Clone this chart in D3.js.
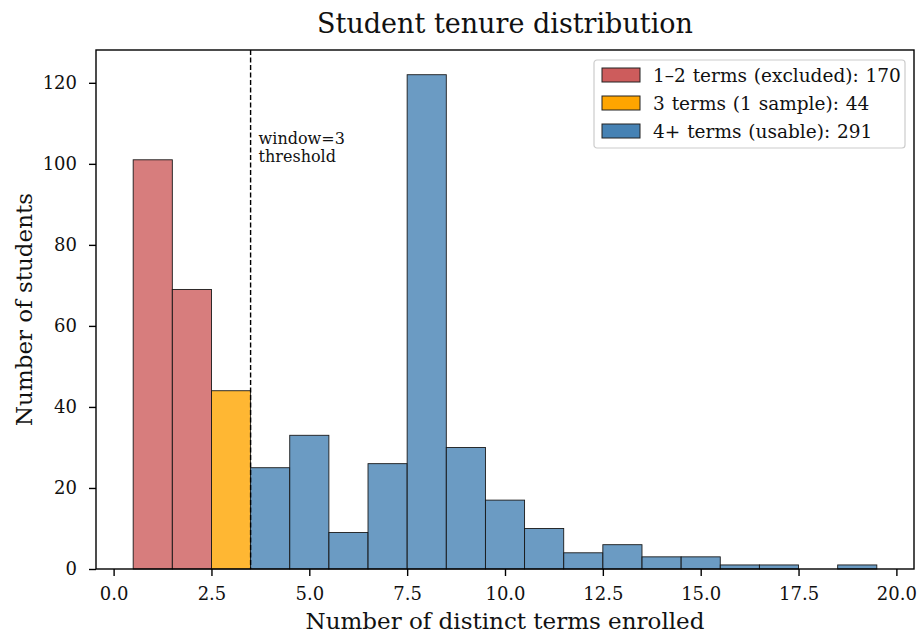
<!DOCTYPE html>
<html>
<head>
<meta charset="utf-8">
<script src="https://cdn.jsdelivr.net/npm/d3@7/dist/d3.min.js"></script>
<style>
  html, body { margin: 0; padding: 0; background: #fff; }
  svg text { font-family: "DejaVu Serif", "Liberation Serif", serif; fill: #111; }
</style>
</head>
<body>
<svg id="chart" width="920" height="644"></svg>
<script>
// Number of distinct terms enrolled (bin centres) and student counts
const terms = [1, 2, 3, 4, 5, 6, 7, 8, 9, 10, 11, 12, 13, 14, 15, 16, 17, 18, 19];
const counts = [101, 69, 44, 25, 33, 9, 26, 122, 30, 17, 10, 4, 6, 3, 3, 1, 1, 0, 1];
const xTicks = [0, 2.5, 5, 7.5, 10, 12.5, 15, 17.5, 20];
const yTicks = [0, 20, 40, 60, 80, 100, 120];
const groups = [
  { name: "1\u20132 terms (excluded)", total: 170, fill: "#cd5c5c" },
  { name: "3 terms (1 sample)", total: 44, fill: "#ffa500" },
  { name: "4+ terms (usable)", total: 291, fill: "#4682b4" }
];
const threshold = 3.5;

const groupOf = t => t <= 2 ? 0 : (t === 3 ? 1 : 2);

const svg = d3.select("#chart");
const m = { left: 96, right: 6, top: 50, bottom: 75 };
const W = 920, H = 644;
const x0 = m.left, x1 = W - m.right, y0 = H - m.bottom, y1 = m.top;

const x = d3.scaleLinear().domain([-0.45, 20.45]).range([x0, x1]);
const y = d3.scaleLinear().domain([0, 122 * 1.05]).range([y0, y1]);

// bars
svg.append("g").selectAll("rect")
  .data(terms.map((t, i) => ({ t, c: counts[i] })).filter(d => d.c > 0))
  .join("rect")
  .attr("x", d => x(d.t - 0.5))
  .attr("width", d => x(d.t + 0.5) - x(d.t - 0.5))
  .attr("y", d => y(d.c))
  .attr("height", d => y(0) - y(d.c))
  .attr("fill", d => groups[groupOf(d.t)].fill)
  .attr("fill-opacity", 0.8)
  .attr("stroke", "#1a1a1a")
  .attr("stroke-width", 0.9);

// threshold line
svg.append("line")
  .attr("x1", x(threshold)).attr("x2", x(threshold))
  .attr("y1", y1).attr("y2", y0)
  .attr("stroke", "#000").attr("stroke-width", 1.4)
  .attr("stroke-dasharray", "5,2.5");

const note = svg.append("text")
  .attr("x", x(threshold) + 8).attr("y", 144)
  .style("font-size", "16px");
note.append("tspan").attr("x", x(threshold) + 8).text("window=3");
note.append("tspan").attr("x", x(threshold) + 8).attr("dy", 18).text("threshold");

// axes
const xAxis = svg.append("g").attr("transform", `translate(0,${y0})`)
  .call(d3.axisBottom(x).tickValues(xTicks).tickFormat(d3.format(".1f")).tickSize(7).tickPadding(11));
const yAxis = svg.append("g").attr("transform", `translate(${x0},0)`)
  .call(d3.axisLeft(y).tickValues(yTicks).tickFormat(d3.format("d")).tickSize(7).tickPadding(12));
[xAxis, yAxis].forEach(a => {
  a.select(".domain").remove();
  a.selectAll(".tick line").attr("stroke", "#000").attr("stroke-width", 1.4);
  a.selectAll(".tick text").style("font-size", "18px").style("font-family", null).attr("fill", "#111");
});

// frame
svg.append("rect")
  .attr("x", x0).attr("y", y1).attr("width", x1 - x0).attr("height", y0 - y1)
  .attr("fill", "none").attr("stroke", "#000").attr("stroke-width", 1.4);

// titles
svg.append("text").attr("x", (x0 + x1) / 2).attr("y", 33)
  .attr("text-anchor", "middle").style("font-size", "27px")
  .text("Student tenure distribution");
svg.append("text").attr("x", (x0 + x1) / 2).attr("y", 629)
  .attr("text-anchor", "middle").style("font-size", "23px")
  .text("Number of distinct terms enrolled");
svg.append("text")
  .attr("transform", `translate(32,${(y0 + y1) / 2}) rotate(-90)`)
  .attr("text-anchor", "middle").style("font-size", "23px")
  .text("Number of students");

// legend
const lg = svg.append("g").attr("transform", "translate(594,60)");
lg.append("rect").attr("width", 311).attr("height", 88).attr("rx", 3)
  .attr("fill", "#fff").attr("fill-opacity", 0.8)
  .attr("stroke", "#ccc").attr("stroke-width", 1.2);
groups.forEach((g, i) => {
  const row = lg.append("g").attr("transform", `translate(0,${15 + i * 28})`);
  row.append("rect").attr("x", 8).attr("y", -7).attr("width", 38).attr("height", 14)
    .attr("fill", g.fill).attr("stroke", "#222").attr("stroke-width", 1);
  row.append("text").attr("x", 59).attr("y", 7).style("font-size", "18.5px")
    .style("word-spacing", "1px")
    .text(`${g.name}: ${g.total}`);
});
</script>
</body>
</html>
